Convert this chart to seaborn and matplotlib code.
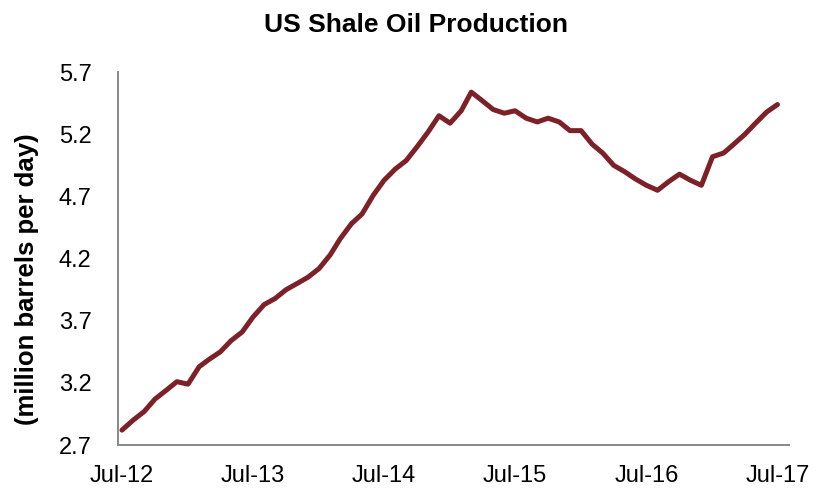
import pandas as pd
import matplotlib
matplotlib.use("Agg")
import matplotlib.pyplot as plt
import seaborn as sns

# monthly production, Jul-2012 .. Jul-2017 (million barrels per day)
months = pd.date_range("2012-07-01", "2017-07-01", freq="MS")
production = [
    2.82, 2.90, 2.97, 3.07, 3.14, 3.21, 3.19, 3.33, 3.39, 3.45,
    3.54, 3.61, 3.73, 3.83, 3.88, 3.95, 4.00, 4.05, 4.12, 4.23,
    4.36, 4.48, 4.56, 4.71, 4.83, 4.92, 4.99, 5.10, 5.22, 5.35,
    5.29, 5.39, 5.54, 5.47, 5.40, 5.37, 5.39, 5.33, 5.30, 5.33,
    5.30, 5.23, 5.23, 5.12, 5.05, 4.95, 4.90, 4.84, 4.79, 4.75,
    4.82, 4.88, 4.83, 4.79, 5.02, 5.05, 5.12, 5.20, 5.29, 5.38,
    5.44,
]
year_labels = ["Jul-12", "Jul-13", "Jul-14", "Jul-15", "Jul-16", "Jul-17"]
y_ticks = [2.7, 3.2, 3.7, 4.2, 4.7, 5.2, 5.7]

df = pd.DataFrame({"Month": months, "Production": production})

sns.set_style("white")
plt.rcParams["font.family"] = ["Liberation Sans", "DejaVu Sans"]
plt.rcParams["text.color"] = "black"

fig = plt.figure(figsize=(8.31, 4.88), dpi=100)
ax = fig.add_axes([0.142, 0.088, 0.807, 0.764])

sns.lineplot(x="Month", y="Production", data=df, ax=ax, color="#7D2128",
             linewidth=3.6, solid_joinstyle="round", solid_capstyle="round")

grey = "#888888"
for side in ["top", "right"]:
    ax.spines[side].set_visible(False)
for side in ["left", "bottom"]:
    ax.spines[side].set_color(grey)
    ax.spines[side].set_linewidth(1.4)

ax.set_ylim(2.7, 5.7)
ax.set_yticks(y_ticks)
ax.set_yticklabels([f"{v:.1f}" for v in y_ticks])

label_pos = pd.to_datetime(["2012-07-01", "2013-07-01", "2014-07-01",
                            "2015-07-01", "2016-07-01", "2017-07-01"])
ax.set_xticks(label_pos)
ax.set_xticklabels(year_labels)
ax.set_xticks(pd.to_datetime(["2012-06-20", "2014-06-20", "2016-06-20"]), minor=True)
ax.set_xlim(pd.Timestamp("2012-06-20"), pd.Timestamp("2017-08-01"))

ax.tick_params(axis="x", which="major", length=0, labelsize=17, pad=14, labelcolor="black")
ax.tick_params(axis="x", which="minor", length=6, width=1.4, color=grey)
ax.tick_params(axis="y", length=6, width=1.4, color=grey, labelsize=17,
               labelcolor="black", pad=13)

ax.set_xlabel("")
ax.set_ylabel("")
fig.text(27 / 831, 0.428, "(million barrels per day)", fontsize=18.5, color="black",
         fontweight="bold", rotation=90, ha="center", va="center")
fig.text(0.5, 1 - 32 / 488, "US Shale Oil Production", fontsize=19, color="black",
         fontweight="bold", ha="center", va="baseline")

fig.savefig("out.png", dpi=100)
